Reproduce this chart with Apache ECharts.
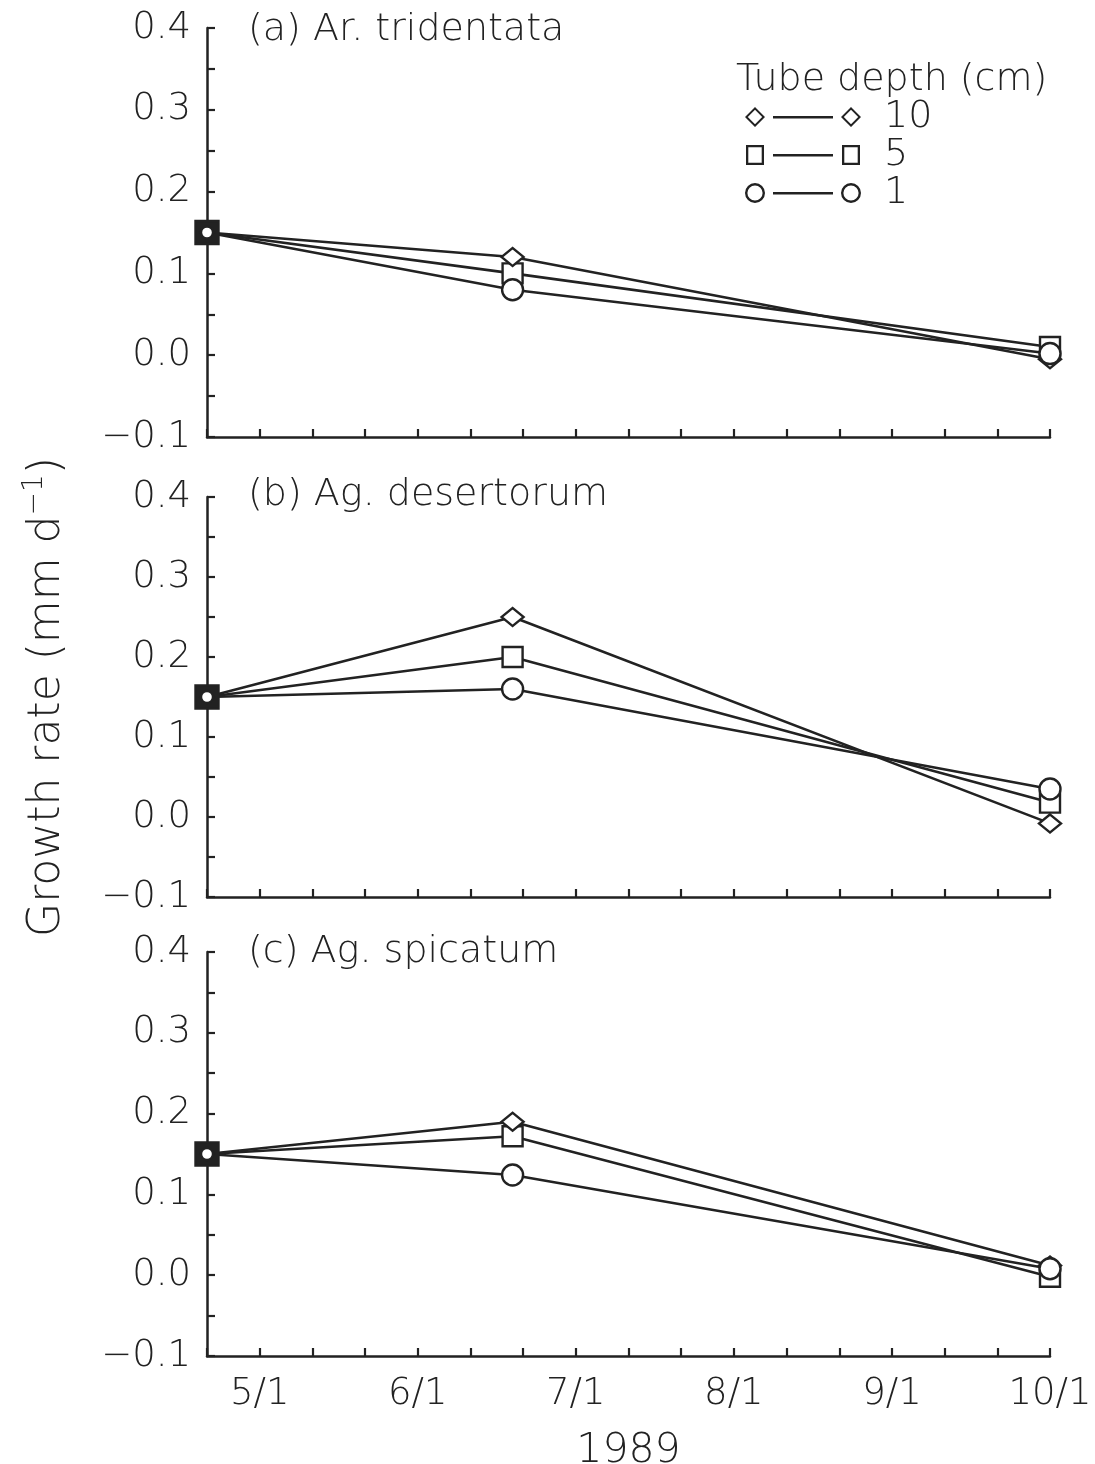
<!DOCTYPE html>
<html>
<head>
<meta charset="utf-8">
<script src="https://cdn.jsdelivr.net/npm/echarts@6/dist/echarts.min.js"></script>
<style>
html,body{margin:0;padding:0;background:#fff;}
#chart{width:1095px;height:1464px;}
</style>
</head>
<body>
<div id="chart"></div>
<script>
// ---- data ----
const monthTicks = ['5/1', '6/1', '7/1', '8/1', '9/1', '10/1'];
const sampleDates = ['4/21', '6/19', '10/1'];
const panelTitles = ['(a) Ar. tridentata', '(b) Ag. desertorum', '(c) Ag. spicatum'];
const depthNames = ['10', '5', '1'];
// growth rate (mm d-1), per panel, per depth
const arTridentata10 = [0.15, 0.12, -0.005];
const arTridentata5  = [0.15, 0.10, 0.010];
const arTridentata1  = [0.15, 0.08, 0.002];
const agDesertorum10 = [0.15, 0.25, -0.008];
const agDesertorum5  = [0.15, 0.20, 0.018];
const agDesertorum1  = [0.15, 0.16, 0.035];
const agSpicatum10   = [0.15, 0.19, 0.012];
const agSpicatum5    = [0.15, 0.172, -0.002];
const agSpicatum1    = [0.15, 0.124, 0.008];

const panels = [
  {d10: arTridentata10, d5: arTridentata5, d1: arTridentata1},
  {d10: agDesertorum10, d5: agDesertorum5, d1: agDesertorum1},
  {d10: agSpicatum10, d5: agSpicatum5, d1: agSpicatum1}
];

// x in thirds of a month (each third ~10 days)
function dateToX(s) {
  const p = s.split('/');
  return Number(p[0]) * 3 + (Number(p[1]) - 1) / 10;
}
const xs = sampleDates.map(dateToX);

const FONT = 'DejaVu Sans';
const FW = 200;
const INK = '#222';

const grids = [
  {left: 207, right: 45, top: 28, height: 409, outerBoundsMode: 'none', containLabel: false},
  {left: 207, right: 45, top: 497, height: 400, outerBoundsMode: 'none', containLabel: false},
  {left: 207, right: 45, top: 952, height: 404, outerBoundsMode: 'none', containLabel: false}
];

const xAxes = grids.map((g, i) => ({
  type: 'value', gridIndex: i, min: 14, max: 30, interval: 1,
  axisLine: {show: true, onZero: false, lineStyle: {color: INK, width: 2.5}},
  axisTick: {show: true, inside: true, length: 8, lineStyle: {color: INK, width: 2.2}},
  splitLine: {show: false},
  axisLabel: {
    show: i === 2, interval: 0, margin: 20, color: INK, fontFamily: FONT, fontWeight: FW, fontSize: 37,
    formatter: v => (Math.round(v) % 3 === 0 ? monthTicks[Math.round(v) / 3 - 5] : '')
  },
  name: i === 2 ? '1989' : '',
  nameLocation: 'middle', nameGap: 75,
  nameTextStyle: {color: INK, fontFamily: FONT, fontWeight: FW, fontSize: 41}
}));

const yAxes = grids.map((g, i) => ({
  type: 'value', gridIndex: i, min: -0.1, max: 0.4, interval: 0.05,
  axisLine: {show: true, onZero: false, lineStyle: {color: INK, width: 2.5}},
  axisTick: {show: true, inside: true, length: 8, lineStyle: {color: INK, width: 2.2}},
  splitLine: {show: false},
  axisLabel: {
    margin: 16, color: INK, fontFamily: FONT, fontWeight: FW, fontSize: 37,
    formatter: v => {
      const k = Math.round(v * 100);
      if (k % 10 !== 0) return '';
      return (k / 100).toFixed(1).replace('-', '\u2212');
    }
  },
  name: i === 1 ? 'Growth rate (mm d{sup|\u22121})' : '',
  nameLocation: 'middle', nameRotate: 90, nameGap: 132,
  nameTextStyle: {
    color: INK, fontFamily: FONT, fontWeight: FW, fontSize: 44, lineHeight: 54,
    rich: {sup: {fontSize: 28, lineHeight: 28, verticalAlign: 'top', color: INK, fontFamily: FONT, fontWeight: FW}}
  }
}));

const markerStyle = {color: '#fff', borderColor: INK, borderWidth: 2.4};
const series = [];
panels.forEach((p, i) => {
  const mk = (name, vals, symbol, size, firstStyle) => ({
    name, type: 'line', xAxisIndex: i, yAxisIndex: i,
    symbol, symbolSize: size,
    lineStyle: {color: INK, width: 2.6},
    itemStyle: markerStyle,
    emphasis: {disabled: true},
    data: vals.map((v, j) => j === 0 ? Object.assign({value: [xs[j], v]}, firstStyle) : [xs[j], v])
  });
  series.push(mk('5', p.d5, 'rect', 20, {symbolSize: 23, itemStyle: {color: INK, borderColor: INK}}));
  series.push(mk('10', p.d10, 'diamond', [22, 18], {symbolSize: [14, 12]}));
  series.push(mk('1', p.d1, 'circle', 21, {symbolSize: 12}));
});

const iconDiamond = 'path://M10 0L20 10L10 20L0 10Z M10 2.8L2.8 10L10 17.2L17.2 10Z M28 9L88 9L88 11.4L28 11.4Z M106 0L116 10L106 20L96 10Z M106 2.8L98.8 10L106 17.2L113.2 10Z';
const iconSquare = 'path://M1 0L19 0L19 20L1 20Z M3.3 2.3L3.3 17.7L16.7 17.7L16.7 2.3Z M28 9L88 9L88 11.4L28 11.4Z M97 0L115 0L115 20L97 20Z M99.3 2.3L99.3 17.7L112.7 17.7L112.7 2.3Z M0 0L0 0 M116 20L116 20';
const iconCircle = 'path://M0 10A10 10 0 1 1 20 10A10 10 0 1 1 0 10Z M2.4 10A7.6 7.6 0 1 0 17.6 10A7.6 7.6 0 1 0 2.4 10Z M28 9L88 9L88 11.4L28 11.4Z M96 10A10 10 0 1 1 116 10A10 10 0 1 1 96 10Z M98.4 10A7.6 7.6 0 1 0 113.6 10A7.6 7.6 0 1 0 98.4 10Z';
const icons = [iconDiamond, iconSquare, iconCircle];

const titleStyle = {color: INK, fontFamily: FONT, fontSize: 38, fontWeight: FW};
const option = {
  backgroundColor: '#fff',
  animation: false,
  grid: grids,
  xAxis: xAxes,
  yAxis: yAxes,
  title: panelTitles.map((t, i) => ({
    text: t, left: 243, top: [6, 471, 928][i], textStyle: titleStyle
  })).concat([{
    text: 'Tube depth (cm)', left: 731, top: 56, textStyle: titleStyle
  }]),
  legend: {
    orient: 'vertical', left: 740, top: 93, itemGap: 0,
    itemWidth: 116, itemHeight: 20,
    selectedMode: false,
    data: depthNames.map((n, k) => ({name: n, icon: icons[k], itemStyle: {color: INK, borderWidth: 0}})),
    textStyle: {color: INK, fontFamily: FONT, fontWeight: FW, fontSize: 38, lineHeight: 20, padding: [0, 0, 0, 18]}
  },
  series
};

const chart = echarts.init(document.getElementById('chart'), null, {renderer: 'canvas'});
chart.setOption(option);
</script>
</body>
</html>
